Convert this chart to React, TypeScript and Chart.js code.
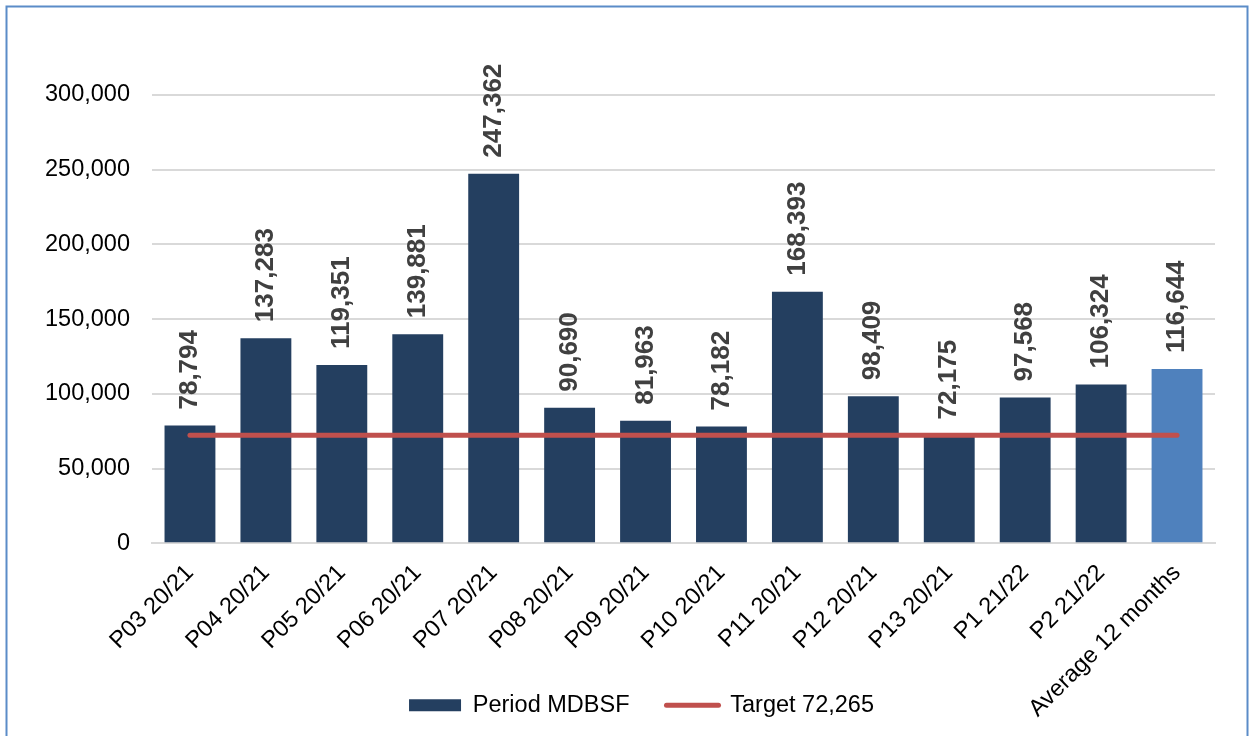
import React, { useEffect, useRef } from "react";
import { Chart, registerables } from "chart.js";

Chart.register(...registerables);

const categories = [
  "P03 20/21",
  "P04 20/21",
  "P05 20/21",
  "P06 20/21",
  "P07 20/21",
  "P08 20/21",
  "P09 20/21",
  "P10 20/21",
  "P11 20/21",
  "P12 20/21",
  "P13 20/21",
  "P1 21/22",
  "P2 21/22",
  "Average 12 months",
];

const periodValues = [
  78794, 137283, 119351, 139881, 247362, 90690, 81963, 78182, 168393, 98409,
  72175, 97568, 106324, 116644,
];

const targetValues = [
  72265, 72265, 72265, 72265, 72265, 72265, 72265, 72265, 72265, 72265, 72265,
  72265, 72265, 72265,
];

const yTicks = [0, 50000, 100000, 150000, 200000, 250000, 300000];

const seriesLabels = ["Period MDBSF", "Target 72,265"];

const NAVY = "#243F60";
const LIGHT_BLUE = "#4F81BD";
const RED = "#C0504D";
const GRID = "#D9D9D9";
const FONT = "'Liberation Sans', Arial, Helvetica, sans-serif";

const fmt = (v: number) => v.toLocaleString("en-US");

const barColors = categories.map((_, i) =>
  i === categories.length - 1 ? LIGHT_BLUE : NAVY
);

const valueLabelPlugin = {
  id: "valueLabels",
  afterDatasetsDraw(chart: any) {
    const meta = chart.getDatasetMeta(0);
    const ctx = chart.ctx;
    ctx.save();
    ctx.font = `bold 26px ${FONT}`;
    ctx.fillStyle = "#404040";
    ctx.textAlign = "left";
    ctx.textBaseline = "middle";
    meta.data.forEach((el: any, i: number) => {
      const v = chart.data.datasets[0].data[i];
      ctx.save();
      ctx.translate(el.x, el.y - 16);
      ctx.rotate(-Math.PI / 2);
      ctx.fillText(fmt(v), 0, 0);
      ctx.restore();
    });
    ctx.restore();
  },
};

const frameAndLegendPlugin = {
  id: "frameAndLegend",
  afterLayout(chart: any) {
    const l = chart.legend;
    if (l) {
      l.left += 34;
      l.right += 34;
    }
    const x = chart.scales.x;
    if (x) {
      x.bottom = chart.height;
      x.height = x.bottom - x.top;
    }
  },
  afterDraw(chart: any) {
    const ctx = chart.ctx;
    ctx.save();
    ctx.strokeStyle = "#5B8CC8";
    ctx.lineWidth = 2;
    ctx.strokeRect(6.5, 6.5, 1241, 800);
    ctx.restore();
  },
};

export default function App() {
  const canvasRef = useRef<HTMLCanvasElement | null>(null);

  useEffect(() => {
    if (!canvasRef.current) return;
    const chart = new Chart(canvasRef.current, {
      type: "bar",
      data: {
        labels: categories,
        datasets: [
          {
            type: "bar",
            label: seriesLabels[0],
            data: periodValues,
            backgroundColor: barColors,
            borderWidth: 0,
            barPercentage: 1,
            categoryPercentage: 0.67,
            order: 1,
          } as any,
          {
            type: "line",
            label: seriesLabels[1],
            data: targetValues,
            borderColor: RED,
            backgroundColor: RED,
            borderWidth: 5,
            borderCapStyle: "round",
            pointRadius: 0,
            pointHoverRadius: 0,
            fill: false,
            order: 0,
          } as any,
        ],
      },
      options: {
        animation: false,
        responsive: true,
        maintainAspectRatio: false,
        layout: {
          padding: { left: 0, top: 95, right: 39, bottom: 9 },
        },
        plugins: {
          tooltip: { enabled: false },
          legend: {
            position: "bottom",
            labels: {
              usePointStyle: true,
              pointStyleWidth: 52,
              boxWidth: 52,
              boxHeight: 12,
              padding: 37,
              color: "#000000",
              font: { family: FONT, size: 23.5 },
              generateLabels: (c: any) => [
                {
                  text: c.data.datasets[0].label,
                  fillStyle: NAVY,
                  strokeStyle: NAVY,
                  lineWidth: 0,
                  pointStyle: "rect",
                  hidden: false,
                  datasetIndex: 0,
                  fontColor: "#000000",
                },
                {
                  text: c.data.datasets[1].label,
                  fillStyle: RED,
                  strokeStyle: RED,
                  lineWidth: 5,
                  lineCap: "round",
                  pointStyle: "line",
                  hidden: false,
                  datasetIndex: 1,
                  fontColor: "#000000",
                },
              ],
            },
          },
        },
        scales: {
          x: {
            offset: true,
            grid: { display: false, drawTicks: false },
            border: { display: true, color: GRID, width: 2 },
            ticks: {
              autoSkip: false,
              minRotation: 45,
              maxRotation: 45,
              padding: 16,
              color: "#000000",
              font: { family: FONT, size: 23.5 },
            },
            afterFit: (scale: any) => {
              scale.height = 113.25;
            },
          } as any,
          y: {
            min: 0,
            max: 300000,
            afterBuildTicks: (scale: any) => {
              scale.ticks = yTicks.map((v) => ({ value: v }));
            },
            grid: { color: GRID, lineWidth: 2, drawTicks: false },
            border: { display: false },
            ticks: {
              padding: 22,
              color: "#000000",
              font: { family: FONT, size: 23.5 },
              callback: (v: any) => fmt(Number(v)),
            },
            afterFit: (scale: any) => {
              scale.width = 152;
            },
          } as any,
        },
      } as any,
      plugins: [valueLabelPlugin, frameAndLegendPlugin],
    });
    return () => chart.destroy();
  }, []);

  return (
    <div
      style={{
        position: "fixed",
        left: 0,
        top: 0,
        width: 1254,
        height: 736,
        background: "#ffffff",
      }}
    >
      <canvas ref={canvasRef} />
    </div>
  );
}
